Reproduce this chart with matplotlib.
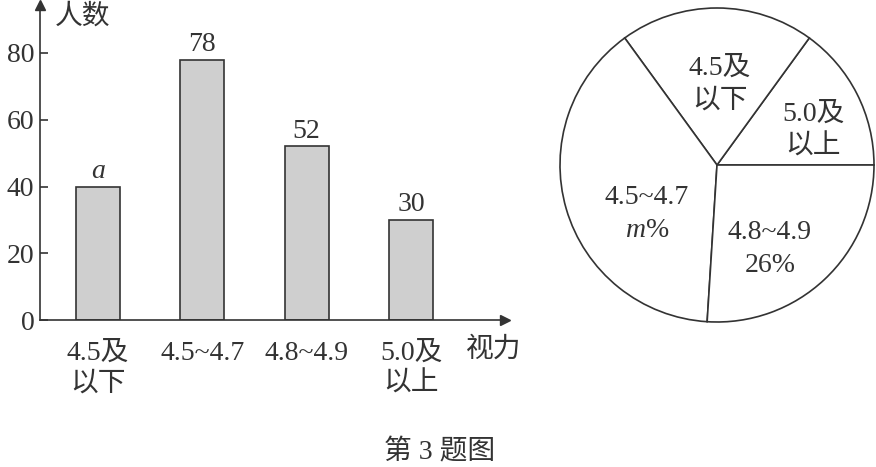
import matplotlib
matplotlib.use("Agg")
import matplotlib.pyplot as plt
import numpy as np

plt.rcParams['font.family'] = ['Liberation Serif', 'Noto Sans CJK SC', 'DejaVu Sans']
plt.rcParams['mathtext.fontset'] = 'custom'
plt.rcParams['mathtext.it'] = 'Liberation Serif:italic'
plt.rcParams['mathtext.rm'] = 'Liberation Serif'

# Data
categories = ["4.5及\n以下", "4.5~4.7", "4.8~4.9", "5.0及\n以上"]
counts = [40, 78, 52, 30]
bar_labels = ["a", "78", "52", "30"]
yticks = [0, 20, 40, 60, 80]

pie_labels = ["5.0及\n以上", "4.5及\n以下", "4.5~4.7\n$m$%", "4.8~4.9\n26%"]
pie_values = [30, 40, 78, 52]

W, H = 876, 467
FS = 20
TC = "#333333"
fig = plt.figure(figsize=(W / 100, H / 100), dpi=100)

def rect(l, t, r, b):
    return [l / W, 1 - b / H, (r - l) / W, (b - t) / H]

# ---- bar chart ----
ax = fig.add_axes(rect(40, 5, 505, 320))
x = np.arange(len(categories))
px_per = (411 - 98) / 3
ax.set_xlim((40 - 98) / px_per, (505 - 98) / px_per)
ax.set_ylim(0, (320 - 5) / ((320 - 53) / 80))
ax.bar(x, counts, width=44 / px_per, color="#cfcfcf", edgecolor=TC, linewidth=1.2)
for xi, c, lab in zip(x, counts, bar_labels):
    if lab == "a":
        ax.text(xi, c + 0.8, "a", ha="center", va="bottom", fontsize=FS, style="italic", color=TC)
    else:
        ax.text(xi, c + 0.8, lab, ha="center", va="bottom", fontsize=FS, color=TC)
for s in ["top", "right"]:
    ax.spines[s].set_visible(False)
for s in ["left", "bottom"]:
    ax.spines[s].set_color(TC)
    ax.spines[s].set_linewidth(1.2)
ax.set_yticks(yticks)
ax.set_yticklabels([str(v) for v in yticks], fontsize=FS, color=TC)
ax.tick_params(axis="y", direction="in", length=6, width=1.2, colors=TC, pad=4)
ax.set_xticks(x)
ax.set_xticklabels(categories, fontsize=FS, color=TC, linespacing=1.3, va="top")
ax.tick_params(axis="x", length=0, pad=15)
# arrows
ax.plot(0, 1, marker="^", color=TC, markersize=7, transform=ax.transAxes, clip_on=False)
ax.plot(1, 0, marker=">", color=TC, markersize=7, transform=ax.transAxes, clip_on=False)
ax.text(0.032, 0.962, "人数", transform=ax.transAxes, fontsize=FS, color=TC, va="center", ha="left")
ax.text(0.976, -0.095, "视力", transform=ax.transAxes, fontsize=FS, color=TC, va="center", ha="center")

# ---- pie chart ----
r = 157
cx, cy = 717, 165
pax = fig.add_axes(rect(cx - r - 2, cy - r - 2, cx + r + 2, cy + r + 2))
wedges, texts = pax.pie(pie_values, startangle=0, counterclock=True,
                        colors=["white"] * 4,
                        wedgeprops=dict(edgecolor=TC, linewidth=1.2),
                        radius=r / (r + 2))
pax.set_aspect("equal")
pax.set_xlim(-1, 1)
pax.set_ylim(-1, 1)
pos = [(813, 131), (720, 85), (647, 214), (770, 249)]
for (px, py), lab in zip(pos, pie_labels):
    pax.text((px - cx) / (r + 2), -(py - cy) / (r + 2), lab, ha="center", va="center",
             fontsize=FS, color=TC, linespacing=1.4)

fig.text(440 / W, 1 - 452 / H, "第 3 题图", ha="center", va="center", fontsize=20, color=TC)

fig.savefig("out.png", dpi=100, facecolor="white")
